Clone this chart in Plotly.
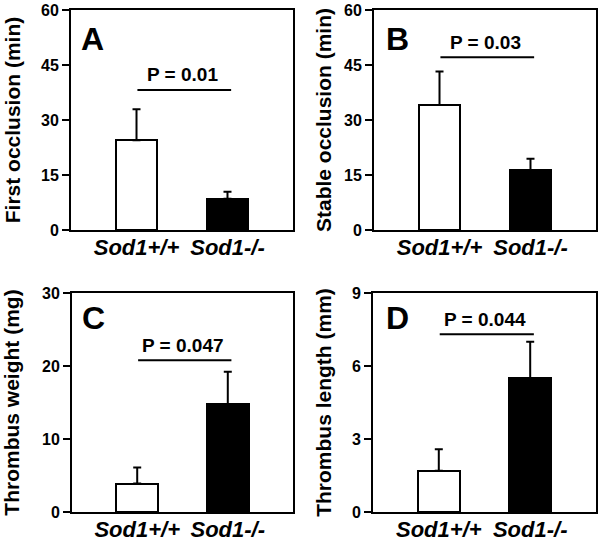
import plotly.graph_objects as go

# ---------------- data ----------------
groups = ["Sod1+/+", "Sod1-/-"]
first_occlusion = [24.5, 8.5]
first_occlusion_err = [8.4, 1.9]
stable_occlusion = [34.1, 16.3]
stable_occlusion_err = [9.1, 3.1]
thrombus_weight = [3.9, 14.8]
thrombus_weight_err = [2.2, 4.4]
thrombus_length = [1.7, 5.5]
thrombus_length_err = [0.88, 1.5]
p_texts = ["P = 0.01", "P = 0.03", "P = 0.047", "P = 0.044"]
bracket_heights = [38.2, 47.1, 20.8, 7.3]
y_titles = ["First occlusion (min)", "Stable occlusion (min)",
            "Thrombus weight (mg)", "Thrombus length (mm)"]
y_ranges = [[0, 60], [0, 60], [0, 30], [0, 9]]
y_ticks = [[0, 15, 30, 45, 60], [0, 15, 30, 45, 60], [0, 10, 20, 30], [0, 3, 6, 9]]
panel_letters = ["A", "B", "C", "D"]

values = [first_occlusion, stable_occlusion, thrombus_weight, thrombus_length]
errors = [first_occlusion_err, stable_occlusion_err, thrombus_weight_err, thrombus_length_err]

# ---------------- layout geometry (pixels) ----------------
W, H = 600, 542
FONT = "Liberation Sans, Arial, sans-serif"
# (left, right, top, bottom) of each plot area in px
boxes = [(71, 293, 10, 230), (374, 596, 10, 230),
         (72, 293, 293, 512), (373, 596, 293, 512)]
title_standoff = [15, 7, 17, 15]
letter_pos = [(92, 39), (397, 39), (93, 318), (397, 318)]

fig = go.Figure()
layout = dict(width=W, height=H, margin=dict(l=0, r=0, t=0, b=0, autoexpand=False),
              plot_bgcolor="white", paper_bgcolor="white",
              showlegend=False, font=dict(family=FONT, color="black"),
              bargap=0)
shapes = []
annotations = []

for i in range(4):
    xa = "x" if i == 0 else f"x{i+1}"
    ya = "y" if i == 0 else f"y{i+1}"
    xkey = "xaxis" if i == 0 else f"xaxis{i+1}"
    ykey = "yaxis" if i == 0 else f"yaxis{i+1}"
    l, r, t, b = boxes[i]
    fig.add_trace(go.Bar(
        x=groups, y=values[i], xaxis=xa, yaxis=ya, width=0.46,
        marker=dict(color=["white", "black"], line=dict(color="black", width=2)),
        error_y=dict(type="data", array=errors[i], arrayminus=[0, 0],
                     symmetric=False, color="black", thickness=2, width=4),
    ))
    layout[xkey] = dict(domain=[l / W, r / W], anchor=ya, range=[-0.72, 1.72],
                        showline=True, mirror=True, linecolor="black", linewidth=2,
                        ticks="", showgrid=False, zeroline=False, automargin=False,
                        ticklabelstandoff=-3,
                        tickfont=dict(size=22, weight="bold", style="italic"),
                        fixedrange=True)
    layout[ykey] = dict(domain=[1 - b / H, 1 - t / H], anchor=xa, range=y_ranges[i],
                        tickvals=y_ticks[i], showline=True, mirror=True,
                        linecolor="black", linewidth=2, ticks="outside",
                        ticklen=7, tickwidth=2, tickcolor="black",
                        showgrid=False, zeroline=False, automargin=False,
                        tickfont=dict(size=16, weight="bold"),
                        title=dict(text=y_titles[i], font=dict(size=21, weight="bold"),
                                   standoff=title_standoff[i]),
                        fixedrange=True)
    # significance bracket
    shapes.append(dict(type="line", xref=xa, yref=ya, x0=0.01, x1=1.04,
                       y0=bracket_heights[i], y1=bracket_heights[i],
                       line=dict(color="black", width=2)))
    annotations.append(dict(xref=xa, yref=ya, x=0.5, y=bracket_heights[i],
                            text=f"<b>{p_texts[i]}</b>", showarrow=False,
                            yanchor="middle", yshift=15,
                            font=dict(size=19, family=FONT, color="black")))
    # panel letter
    lx, ly = letter_pos[i]
    annotations.append(dict(xref="paper", yref="paper", x=lx / W, y=1 - ly / H,
                            text=f"<b>{panel_letters[i]}</b>", showarrow=False,
                            xanchor="center", yanchor="middle",
                            font=dict(size=32, family=FONT, color="black")))

layout["shapes"] = shapes
layout["annotations"] = annotations
fig.update_layout(**layout)
fig.write_html("out.html", config={"displayModeBar": False},
               post_script="document.body.style.margin='0px';")
